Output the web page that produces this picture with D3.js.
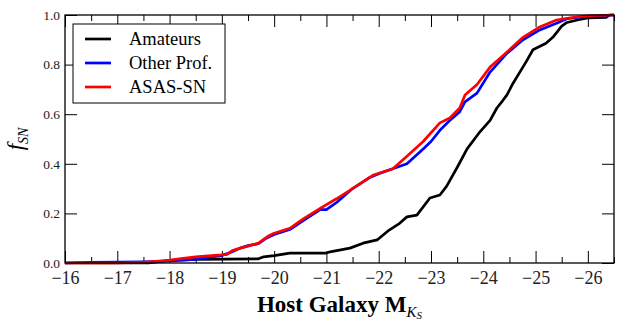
<!DOCTYPE html>
<html>
<head>
<meta charset="utf-8">
<script src="https://cdn.jsdelivr.net/npm/d3@7"></script>
<style>
  body { margin: 0; background: #fff; }
  svg { display: block; font-family: "Liberation Serif", "Times New Roman", serif; }
  .tick-label { fill: #222; }
</style>
</head>
<body>
<svg id="chart" width="623" height="330"></svg>
<script>
// Cumulative fraction of SNe vs host galaxy K_s absolute magnitude
const amateursMag = [-16, -17.6, -18.0, -18.5, -19.7, -19.8, -20.0, -20.3, -21.0, -21.07, -21.45, -21.7, -21.97, -22.2, -22.4, -22.54, -22.73, -22.98, -23.17, -23.3, -23.5, -23.69, -23.94, -24.13, -24.26, -24.38, -24.45, -24.57, -24.83, -24.95, -25.2, -25.33, -25.5, -25.6, -25.8, -26.0, -26.35, -26.42, -26.5];
const amateursF   = [0, 0, 0.01, 0.015, 0.017, 0.025, 0.03, 0.04, 0.04, 0.045, 0.06, 0.08, 0.093, 0.133, 0.16, 0.186, 0.193, 0.262, 0.274, 0.31, 0.385, 0.46, 0.53, 0.575, 0.625, 0.657, 0.677, 0.725, 0.815, 0.86, 0.886, 0.91, 0.955, 0.97, 0.98, 0.988, 0.99, 1.0, 1.0];

const otherMag = [-16, -16.5, -17.5, -18.0, -18.5, -18.8, -19.0, -19.2, -19.35, -19.5, -19.7, -19.85, -20.0, -20.3, -20.55, -20.88, -21.0, -21.2, -21.5, -21.83, -22.0, -22.27, -22.54, -22.85, -23.0, -23.17, -23.36, -23.55, -23.65, -23.88, -24.13, -24.45, -24.76, -25.08, -25.4, -25.6, -26.0, -26.5];
const otherF   = [0, 0.003, 0.005, 0.008, 0.015, 0.025, 0.03, 0.045, 0.06, 0.07, 0.078, 0.1, 0.115, 0.135, 0.17, 0.215, 0.215, 0.245, 0.30, 0.345, 0.36, 0.38, 0.40, 0.46, 0.49, 0.535, 0.575, 0.61, 0.65, 0.685, 0.77, 0.845, 0.90, 0.94, 0.967, 0.985, 0.995, 1.0];

const asassnMag = [-16, -17.0, -17.5, -17.8, -18.0, -18.3, -18.5, -18.8, -19.0, -19.1, -19.2, -19.35, -19.5, -19.7, -19.8, -19.9, -20.0, -20.3, -20.55, -20.88, -21.2, -21.5, -21.83, -21.9, -22.27, -22.54, -22.85, -23.17, -23.36, -23.55, -23.65, -23.88, -24.13, -24.45, -24.76, -25.08, -25.4, -25.7, -26.0, -26.5];
const asassnF   = [0, 0, 0.003, 0.008, 0.012, 0.02, 0.025, 0.03, 0.033, 0.035, 0.05, 0.06, 0.068, 0.08, 0.095, 0.11, 0.12, 0.14, 0.177, 0.22, 0.26, 0.30, 0.345, 0.355, 0.38, 0.43, 0.49, 0.565, 0.585, 0.625, 0.677, 0.72, 0.79, 0.85, 0.91, 0.952, 0.98, 0.99, 0.997, 1.0];

const seriesNames = ['Amateurs', 'Other Prof.', 'ASAS-SN'];
const seriesColors = ['#000000', '#0000ff', '#ff0000'];
const xTicks = [-16, -17, -18, -19, -20, -21, -22, -23, -24, -25, -26];
const yTicks = [0, 0.2, 0.4, 0.6, 0.8, 1.0];

const series = [
  { name: seriesNames[0], color: seriesColors[0], values: amateursMag.map((m, i) => [m, amateursF[i]]) },
  { name: seriesNames[1], color: seriesColors[1], values: otherMag.map((m, i) => [m, otherF[i]]) },
  { name: seriesNames[2], color: seriesColors[2], values: asassnMag.map((m, i) => [m, asassnF[i]]) }
];

const margin = { top: 15, right: 9, bottom: 67, left: 65 };
const W = 623, H = 330;
const innerW = W - margin.left - margin.right;
const innerH = H - margin.top - margin.bottom;

const svg = d3.select('#chart');
const g = svg.append('g').attr('transform', `translate(${margin.left},${margin.top})`);

const x = d3.scaleLinear().domain([-16, -26.5]).range([0, innerW]);
const y = d3.scaleLinear().domain([0, 1]).range([innerH, 0]);

const fmtX = (d) => String(d).replace('-', '\u2212');
const minorX = d3.range(-16.5, -26.6, -1);

// Ticks drawn inward on all four sides; d3's own font settings are dropped
function drawTicks(axisGen, transform, cls) {
  const a = g.append('g').attr('class', cls).attr('transform', transform).call(axisGen);
  a.attr('font-family', null).attr('font-size', null);
  a.select('.domain').remove();
  a.selectAll('.tick line').attr('stroke', '#000').attr('stroke-width', 1);
  return a;
}

const bx = drawTicks(d3.axisBottom(x).tickValues(xTicks).tickSizeInner(-12).tickFormat(fmtX), `translate(0,${innerH})`, 'x-axis');
bx.selectAll('.tick text').attr('class', 'tick-label').attr('dy', null).attr('y', 21).style('font-size', '18px');
drawTicks(d3.axisBottom(x).tickValues(minorX).tickSizeInner(-6).tickFormat(''), `translate(0,${innerH})`, 'x-minor');
drawTicks(d3.axisTop(x).tickValues(xTicks).tickSizeInner(-12).tickFormat(''), 'translate(0,0)', 'x-top');
drawTicks(d3.axisTop(x).tickValues(minorX).tickSizeInner(-6).tickFormat(''), 'translate(0,0)', 'x-top-minor');

const ly = drawTicks(d3.axisLeft(y).tickValues(yTicks).tickSizeInner(-12).tickFormat(d3.format('.1f')), 'translate(0,0)', 'y-axis');
ly.selectAll('.tick text').attr('class', 'tick-label').attr('x', -5).style('font-size', '13.5px');
drawTicks(d3.axisRight(y).tickValues(yTicks).tickSizeInner(-12).tickFormat(''), `translate(${innerW},0)`, 'y-right');

// Lines
const line = d3.line().x((d) => x(d[0])).y((d) => y(d[1]));
g.selectAll('path.series')
  .data(series)
  .join('path')
  .attr('class', 'series')
  .attr('fill', 'none')
  .attr('stroke', (d) => d.color)
  .attr('stroke-width', 2.7)
  .attr('stroke-linejoin', 'round')
  .attr('d', (d) => line(d.values));

// Frame
g.append('rect')
  .attr('width', innerW).attr('height', innerH)
  .attr('fill', 'none').attr('stroke', '#000').attr('stroke-width', 1.3);

// Legend
const legend = g.append('g').attr('transform', 'translate(8,9)');
legend.append('rect')
  .attr('width', 152).attr('height', 79)
  .attr('fill', '#fff').attr('stroke', '#000').attr('stroke-width', 1);
series.forEach((s, i) => {
  const ry = 15 + i * 24;
  legend.append('line')
    .attr('x1', 12).attr('x2', 38).attr('y1', ry).attr('y2', ry)
    .attr('stroke', s.color).attr('stroke-width', 2.7);
  legend.append('text')
    .attr('x', 56).attr('y', ry).attr('dy', '0.35em')
    .style('font-size', '18.5px')
    .text(s.name);
});

// Axis titles
const xt = svg.append('text')
  .attr('x', margin.left + innerW / 2).attr('y', 312)
  .attr('text-anchor', 'middle')
  .style('font-size', '23px').style('font-weight', 'bold');
xt.append('tspan').text('Host Galaxy M');
xt.append('tspan').attr('dy', 5).style('font-size', '15px').style('font-style', 'italic').style('font-weight', 'normal').text('K');
xt.append('tspan').attr('dy', 2).style('font-size', '11px').style('font-style', 'italic').style('font-weight', 'normal').text('S');

const yt = svg.append('text')
  .attr('transform', `translate(23,${margin.top + innerH / 2}) rotate(-90)`)
  .attr('text-anchor', 'middle');
yt.append('tspan').style('font-size', '23px').style('font-style', 'italic').text('f');
yt.append('tspan').attr('dy', 5).style('font-size', '14px').style('font-style', 'italic').text('SN');
</script>
</body>
</html>
